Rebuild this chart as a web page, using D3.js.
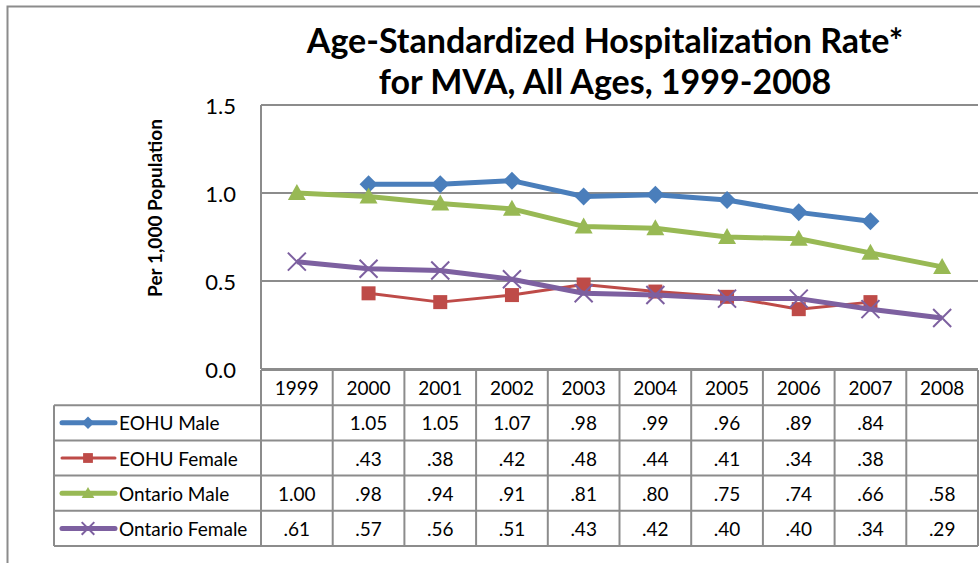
<!DOCTYPE html>
<html>
<head>
<meta charset="utf-8">
<script src="https://cdn.jsdelivr.net/npm/d3@7"></script>
<style>
  body { margin: 0; background: #fff; }
  svg { display: block; font-family: Lato, "Open Sans", sans-serif; }
</style>
</head>
<body>
<div id="chart"></div>
<script>
// data
let years = ['1999', '2000', '2001', '2002', '2003', '2004', '2005', '2006', '2007', '2008']
let eohuMale = [null, 1.05, 1.05, 1.07, .98, .99, .96, .89, .84, null]
let eohuFemale = [null, .43, .38, .42, .48, .44, .41, .34, .38, null]
let ontarioMale = [1.00, .98, .94, .91, .81, .80, .75, .74, .66, .58]
let ontarioFemale = [.61, .57, .56, .51, .43, .42, .40, .40, .34, .29]
let yTicks = [0, 0.5, 1.0, 1.5]

let series = [
  { name: 'EOHU Male', values: eohuMale, color: '#4a7ebb', width: 5, marker: 'diamond' },
  { name: 'EOHU Female', values: eohuFemale, color: '#be4b48', width: 3, marker: 'square' },
  { name: 'Ontario Male', values: ontarioMale, color: '#98b954', width: 5, marker: 'triangle' },
  { name: 'Ontario Female', values: ontarioFemale, color: '#7d60a0', width: 5, marker: 'x' }
]

let W = 980, H = 563
let plot = { left: 261, right: 978, top: 105, bottom: 369 }
let rowTop = 370, rowH = 35.2, legendLeft = 54
let gridColor = '#8c8c8c'
let tableFont = 19

let svg = d3.select('#chart').append('svg')
  .attr('width', W).attr('height', H)

// outer chart border (runs off the picture on right/bottom)
svg.append('rect')
  .attr('x', 7.5).attr('y', 6.5).attr('width', 1100).attr('height', 700)
  .attr('fill', 'none').attr('stroke', gridColor).attr('stroke-width', 2)

let x = d3.scaleBand().domain(years).range([plot.left, plot.right])
let y = d3.scaleLinear().domain([0, 1.5]).range([plot.bottom, plot.top])

// title
let title = svg.append('text')
  .attr('text-anchor', 'middle')
  .attr('font-weight', 'bold')
  .attr('font-size', 34)
  .attr('fill', '#000')
title.append('tspan').attr('x', 605).attr('y', 53).text('Age-Standardized Hospitalization Rate*')
title.append('tspan').attr('x', 605).attr('y', 94).text('for MVA, All Ages, 1999-2008')

// gridlines
svg.append('g').selectAll('line')
  .data(yTicks)
  .join('line')
  .attr('x1', plot.left).attr('x2', plot.right)
  .attr('y1', d => y(d)).attr('y2', d => y(d))
  .attr('stroke', gridColor).attr('stroke-width', 2)

// plot left edge
svg.append('line')
  .attr('x1', plot.left).attr('x2', plot.left)
  .attr('y1', plot.top).attr('y2', plot.bottom)
  .attr('stroke', gridColor).attr('stroke-width', 2)

// y tick labels
svg.append('g').selectAll('text')
  .data(yTicks)
  .join('text')
  .attr('x', 236).attr('y', d => y(d))
  .attr('text-anchor', 'end')
  .attr('dominant-baseline', 'central')
  .attr('font-size', 22)
  .text(d => d3.format('.1f')(d))

// y axis title
svg.append('text')
  .attr('transform', 'translate(162,208) rotate(-90)')
  .attr('text-anchor', 'middle')
  .attr('font-weight', 'bold')
  .attr('font-size', 19)
  .text('Per 1,000 Population')

// markers
function drawMarker(g, type, color, size) {
  let s = size || 1
  if (type == 'diamond')
    g.append('path').attr('d', `M0,${-9 * s}L${9 * s},0L0,${9 * s}L${-9 * s},0Z`).attr('fill', color)
  else if (type == 'square')
    g.append('rect').attr('x', -7 * s).attr('y', -7 * s).attr('width', 14 * s).attr('height', 14 * s).attr('fill', color)
  else if (type == 'triangle')
    g.append('path').attr('d', `M0,${-9 * s}L${9 * s},${7 * s}L${-9 * s},${7 * s}Z`).attr('fill', color)
  else if (type == 'x')
    g.append('path').attr('d', `M${-9 * s},${-9 * s}L${9 * s},${9 * s}M${9 * s},${-9 * s}L${-9 * s},${9 * s}`)
      .attr('stroke', color).attr('stroke-width', 2).attr('fill', 'none')
}

let line = d3.line()
  .defined(d => d.v != null)
  .x(d => x(d.year) + x.bandwidth() / 2)
  .y(d => y(d.v))

let lines = svg.append('g')
series.forEach(s => {
  let pts = years.map((year, i) => ({ year, v: s.values[i] }))
  lines.append('path')
    .datum(pts)
    .attr('d', line)
    .attr('fill', 'none')
    .attr('stroke', s.color)
    .attr('stroke-width', s.width)
    .attr('stroke-linejoin', 'round')
  pts.filter(d => d.v != null).forEach(d => {
    let g = lines.append('g')
      .attr('transform', `translate(${x(d.year) + x.bandwidth() / 2},${y(d.v)})`)
    drawMarker(g, s.marker, s.color)
  })
})

// data table
let table = svg.append('g')
let nRows = series.length + 1
let tableBottom = rowTop + rowH * nRows
let tStroke = '#8c8c8c'

// horizontal rules
table.append('line')
  .attr('x1', plot.left).attr('x2', plot.right)
  .attr('y1', rowTop).attr('y2', rowTop)
  .attr('stroke', tStroke).attr('stroke-width', 2)
d3.range(1, nRows + 1).forEach(i => {
  table.append('line')
    .attr('x1', legendLeft).attr('x2', plot.right)
    .attr('y1', rowTop + rowH * i).attr('y2', rowTop + rowH * i)
    .attr('stroke', tStroke).attr('stroke-width', 2)
})
// vertical rules
years.forEach(yr => {
  table.append('line')
    .attr('x1', x(yr)).attr('x2', x(yr))
    .attr('y1', rowTop).attr('y2', tableBottom)
    .attr('stroke', tStroke).attr('stroke-width', 2)
})
table.append('line')
  .attr('x1', plot.right).attr('x2', plot.right)
  .attr('y1', rowTop).attr('y2', tableBottom)
  .attr('stroke', tStroke).attr('stroke-width', 2)
table.append('line')
  .attr('x1', legendLeft).attr('x2', legendLeft)
  .attr('y1', rowTop + rowH).attr('y2', tableBottom)
  .attr('stroke', tStroke).attr('stroke-width', 2)

// header years
table.append('g').selectAll('text')
  .data(years)
  .join('text')
  .attr('x', d => x(d) + x.bandwidth() / 2)
  .attr('y', rowTop + rowH / 2)
  .attr('text-anchor', 'middle')
  .attr('dominant-baseline', 'central')
  .attr('font-size', tableFont)
  .text(d => d)

let fmt = v => v == null ? '' : (v >= 1 ? d3.format('.2f')(v) : d3.format('.2f')(v).replace(/^0/, ''))

series.forEach((s, r) => {
  let cy = rowTop + rowH * (r + 1) + rowH / 2
  // legend key
  table.append('line')
    .attr('x1', 62).attr('x2', 115)
    .attr('y1', cy).attr('y2', cy)
    .attr('stroke', s.color).attr('stroke-width', s.width)
    .attr('stroke-linecap', 'round')
  let g = table.append('g').attr('transform', `translate(88,${cy})`)
  drawMarker(g, s.marker, s.color, 0.7)
  table.append('text')
    .attr('x', 119).attr('y', cy)
    .attr('dominant-baseline', 'central')
    .attr('font-size', tableFont)
    .text(s.name)
  // values
  years.forEach((yr, i) => {
    table.append('text')
      .attr('x', x(yr) + x.bandwidth() / 2)
      .attr('y', cy)
      .attr('text-anchor', 'middle')
      .attr('dominant-baseline', 'central')
      .attr('font-size', tableFont)
      .text(fmt(s.values[i]))
  })
})
</script>
</body>
</html>
